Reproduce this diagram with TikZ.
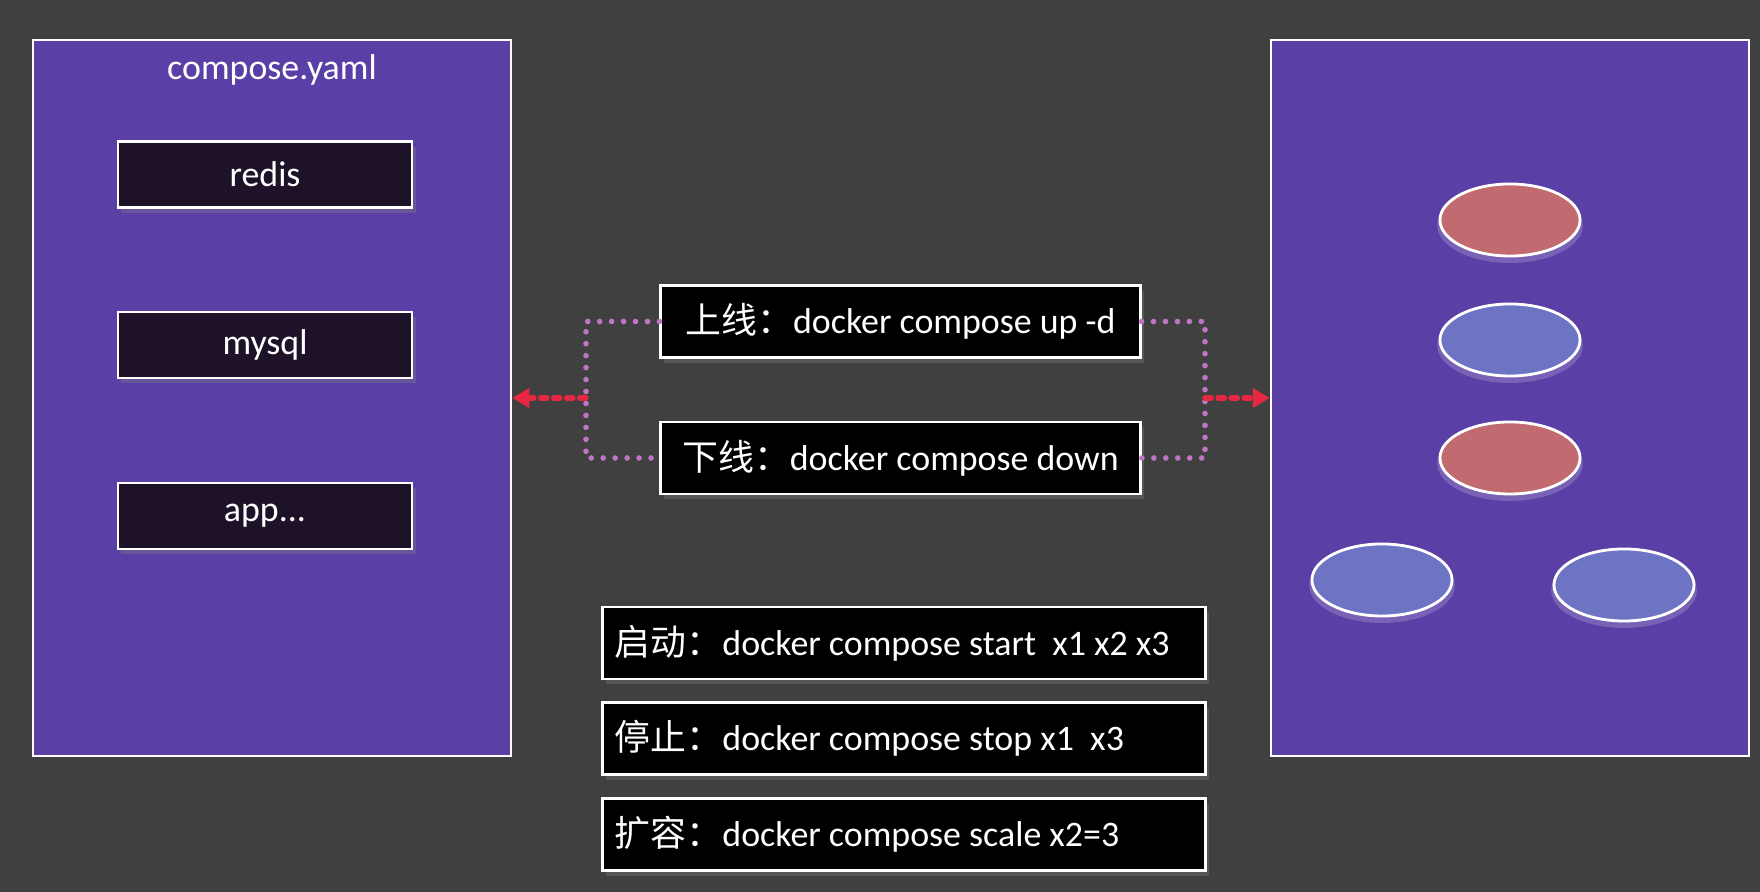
\documentclass[tikz,border=0pt]{standalone}
\usepackage{fontspec}
\setmainfont{Carlito}
\newfontfamily\cjk{Noto Sans CJK SC}
\usetikzlibrary{arrows.meta, shapes.geometric, shadows}

\definecolor{bgGray}{RGB}{64,64,64}
\definecolor{panelPurple}{RGB}{90,64,166}
\definecolor{svcDark}{RGB}{30,18,40}
\definecolor{podRed}{RGB}{193,106,112}
\definecolor{podBlue}{RGB}{109,116,196}
\definecolor{dotViolet}{RGB}{190,118,196}
\definecolor{arrowRed}{RGB}{230,40,66}

\begin{document}
\begin{tikzpicture}[x=0.01cm, y=-0.01cm,
  font=\fontsize{10.2}{12}\selectfont,
  panel/.style={draw=white, line width=0.7pt, fill=panelPurple,
    minimum width=4.78cm, minimum height=7.16cm, inner sep=0pt},
  svcbox/.style={draw=white, line width=0.8pt, fill=svcDark, text=white,
    minimum width=2.94cm, minimum height=0.66cm, inner sep=0pt,
    drop shadow={shadow xshift=1pt, shadow yshift=-1.5pt, opacity=0.35}},
  cmdbox/.style={draw=white, line width=0.8pt, fill=black, text=white,
    minimum height=0.72cm, inner sep=0pt,
    drop shadow={shadow xshift=1pt, shadow yshift=-1.5pt, opacity=0.35}},
  pod/.style={ellipse, draw=white, line width=0.8pt,
    minimum width=1.4cm, minimum height=0.72cm, inner sep=0pt,
    drop shadow={shadow xshift=0pt, shadow yshift=-1.5pt,
      shadow scale=1.04, fill=white, opacity=0.18}},
  dotline/.style={draw=dotViolet, line width=1.6pt, line cap=round,
    dash pattern=on 0pt off 3.4pt},
  redarrow/.style={draw=arrowRed, line width=1.5pt, line cap=round,
    dash pattern=on 1.8pt off 1.9pt, -{Triangle[length=4.8pt, width=5.4pt]}}
]
% Background
\fill[bgGray] (0,0) rectangle (1760,892);
\useasboundingbox (0,0) rectangle (1760,892);

% === Left panel: compose file ===
\node[panel] (Compose) at (272,398) {};
\node[text=white] (ComposeTitle) at (272,70) {compose.yaml};
\foreach \i/\txt/\y in {1/redis/174.5, 2/mysql/345, 3/{app...}/516}{
  \node[svcbox] (Svc-\i) at (265,\y) {\txt};
}

% === Right panel: running containers ===
\node[panel] (Cluster) at (1510,398) {};
\foreach \i/\col/\x/\y in {1/podRed/1510/220, 2/podBlue/1510/340,
                           3/podRed/1510/458, 4/podBlue/1382/580,
                           5/podBlue/1624/585}{
  \node[pod, fill=\col] (Pod-\i) at (\x,\y) {};
}

% === Up / down commands ===
\node[cmdbox, minimum width=4.79cm] (Up) at (900.5,321.5)
  {{\cjk 上线：}docker compose up -d};
\node[cmdbox, minimum width=4.79cm] (Down) at (900.5,458)
  {{\cjk 下线：}docker compose down};

% === Connections ===
\coordinate (JoinL) at (586,398);
\coordinate (JoinR) at (1205,398);
\draw[dotline] (Up.west) -| (JoinL) |- (Down.west);
\draw[dotline] (Up.east) -| (JoinR) |- (Down.east);
\draw[redarrow] (JoinL) -- (Compose.east);
\draw[redarrow] (JoinR) -- (Cluster.west);

% === Other commands ===
\foreach \i/\txt/\y in {1/{{\cjk 启动：}docker compose start\ \ x1 x2 x3}/643,
                        2/{{\cjk 停止：}docker compose stop x1\ \ x3}/738.5,
                        3/{{\cjk 扩容：}docker compose scale x2=3}/834.5}{
  \node[cmdbox, minimum width=6.02cm]
    (Cmd-\i) at (904,\y) {\makebox[5.78cm][l]{\txt}};
}
\end{tikzpicture}
\end{document}
